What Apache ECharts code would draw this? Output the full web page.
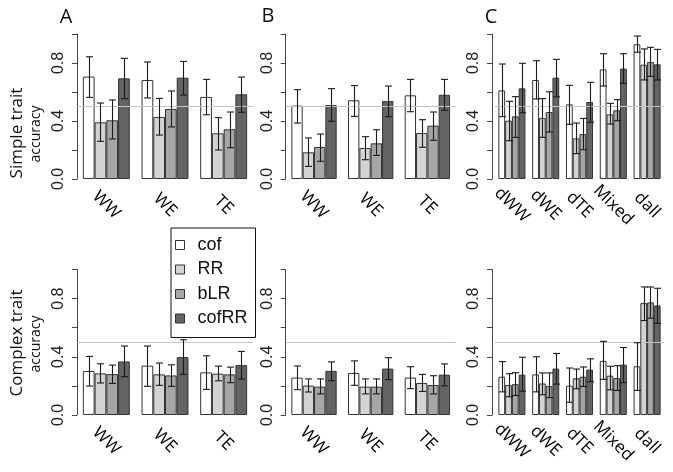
<!DOCTYPE html>
<html><head><meta charset="utf-8">
<script src="https://cdn.jsdelivr.net/npm/echarts@6/dist/echarts.min.js"></script>
<style>html,body{margin:0;padding:0;background:#fff}#c{width:673px;height:472px}</style>
</head><body><div id="c"></div>
<script>
// ---- categories / labels ----
const catsAB = ['WW', 'WE', 'TE'];
const catsC = ['dWW', 'dWE', 'dTE', 'Mixed', 'dall'];
const methods = ['cof', 'RR', 'bLR', 'cofRR'];
const yTickLabels = ['0.0', '0.4', '0.8'];
const panelLetters = ['A', 'B', 'C'];
const rowLabels = ['Simple trait', 'Complex trait'];
const refLine = 0.5;

// ---- Simple trait (rows: cof, RR, bLR, cofRR) ----
const simpleA_mean = [[0.706,0.683,0.566],[0.391,0.428,0.315],[0.405,0.483,0.343],[0.694,0.699,0.584]];
const simpleA_lo   = [[0.563,0.559,0.443],[0.260,0.303,0.200],[0.276,0.359,0.216],[0.554,0.579,0.460]];
const simpleA_hi   = [[0.843,0.807,0.687],[0.524,0.556,0.423],[0.545,0.607,0.462],[0.832,0.811,0.703]];

const simpleB_mean = [[0.506,0.543,0.577],[0.184,0.214,0.317],[0.221,0.246,0.368],[0.510,0.538,0.581]];
const simpleB_lo   = [[0.386,0.432,0.464],[0.087,0.133,0.219],[0.122,0.163,0.267],[0.398,0.430,0.474]];
const simpleB_hi   = [[0.616,0.644,0.687],[0.283,0.292,0.409],[0.310,0.340,0.462],[0.623,0.641,0.687]];

const simpleC_mean = [[0.611,0.683,0.515,0.756,0.929],[0.402,0.421,0.280,0.446,0.788],[0.432,0.462,0.310,0.474,0.807],[0.625,0.699,0.531,0.761,0.791]];
const simpleC_lo   = [[0.430,0.552,0.377,0.641,0.874],[0.264,0.287,0.175,0.379,0.683],[0.287,0.324,0.202,0.402,0.708],[0.457,0.566,0.391,0.660,0.683]];
const simpleC_hi   = [[0.793,0.816,0.646,0.864,0.986],[0.536,0.554,0.386,0.522,0.897],[0.568,0.602,0.418,0.547,0.908],[0.798,0.825,0.667,0.864,0.894]];

// ---- Complex trait ----
const complexA_mean = [[0.302,0.339,0.293],[0.286,0.279,0.284],[0.281,0.272,0.279],[0.368,0.398,0.343]];
const complexA_lo   = [[0.199,0.197,0.176],[0.220,0.204,0.235],[0.217,0.197,0.222],[0.263,0.279,0.247]];
const complexA_hi   = [[0.403,0.474,0.407],[0.352,0.357,0.336],[0.343,0.345,0.329],[0.474,0.517,0.437]];

const complexB_mean = [[0.257,0.289,0.257],[0.202,0.195,0.220],[0.195,0.195,0.206],[0.303,0.319,0.277]];
const complexB_lo   = [[0.174,0.204,0.181],[0.158,0.145,0.162],[0.145,0.145,0.145],[0.236,0.243,0.200]];
const complexB_hi   = [[0.337,0.372,0.332],[0.248,0.248,0.279],[0.248,0.248,0.270],[0.365,0.394,0.351]];

const complexC_mean = [[0.263,0.279,0.201,0.372,0.335],[0.206,0.217,0.252,0.270,0.769],[0.212,0.199,0.263,0.254,0.774],[0.277,0.319,0.312,0.346,0.753]];
const complexC_lo   = [[0.159,0.159,0.088,0.245,0.169],[0.125,0.139,0.180,0.173,0.649],[0.134,0.120,0.196,0.169,0.665],[0.164,0.212,0.229,0.222,0.630]];
const complexC_hi   = [[0.367,0.400,0.323,0.506,0.497],[0.284,0.289,0.316,0.335,0.880],[0.291,0.289,0.330,0.339,0.880],[0.397,0.423,0.386,0.464,0.871]];

// ---- styling ----
const colors = ['#ffffff', '#d3d3d3', '#a6a6a6', '#646464'];
const panels = [
  {cats: catsAB, mean: simpleA_mean, lo: simpleA_lo, hi: simpleA_hi, left: 77, width: 176, top: 34, height: 145, off: 0},
  {cats: catsAB, mean: simpleB_mean, lo: simpleB_lo, hi: simpleB_hi, left: 285.7, width: 170, top: 34, height: 145, off: 0},
  {cats: catsC,  mean: simpleC_mean, lo: simpleC_lo, hi: simpleC_hi, left: 495, width: 169, top: 34, height: 145, off: 3},
  {cats: catsAB, mean: complexA_mean, lo: complexA_lo, hi: complexA_hi, left: 77, width: 176, top: 269.5, height: 145.5, off: 0},
  {cats: catsAB, mean: complexB_mean, lo: complexB_lo, hi: complexB_hi, left: 285.7, width: 170, top: 269.5, height: 145.5, off: 0},
  {cats: catsC,  mean: complexC_mean, lo: complexC_lo, hi: complexC_hi, left: 495, width: 169, top: 269.5, height: 145.5, off: 3}
];

const grid = [], xAxis = [], yAxis = [], series = [];
panels.forEach((p, g) => {
  grid.push({left: p.left, top: p.top, width: p.width, height: p.height, containLabel: false});
  xAxis.push({
    type: 'category', gridIndex: g, data: p.cats,
    axisLine: {show: false}, axisTick: {show: false},
    axisLabel: {interval: 0, rotate: -45, align: 'center', verticalAlign: 'middle', margin: 26,
      fontFamily: 'Open Sans', fontSize: 17, color: '#000'}
  });
  yAxis.push({
    type: 'value', gridIndex: g, min: 0, max: 1, interval: 0.2, offset: p.off,
    axisLine: {show: true, lineStyle: {color: '#444', width: 1}},
    axisTick: {show: true, length: 5, lineStyle: {color: '#444'}},
    splitLine: {show: false},
    axisLabel: {rotate: 90, margin: 10, fontFamily: 'Liberation Sans', fontSize: 16, color: '#222',
      formatter: v => { const s = v.toFixed(1); return yTickLabels.includes(s) ? s : ''; }}
  });
  methods.forEach((m, k) => {
    series.push({
      type: 'bar', name: m, xAxisIndex: g, yAxisIndex: g, data: p.mean[k],
      barGap: '0%', barCategoryGap: '20%',
      itemStyle: {color: colors[k], borderColor: '#333', borderWidth: 1},
      emphasis: {disabled: true}, animation: false, z: 2
    });
  });
  methods.forEach((m, k) => {
    const lo = p.lo[k], hi = p.hi[k];
    series.push({
      type: 'custom', xAxisIndex: g, yAxisIndex: g, z: 6, animation: false, silent: true,
      encode: {x: 0, y: [1, 2]},
      data: lo.map((l, i) => [i, l, hi[i]]),
      renderItem: (params, api) => {
        const i = api.value(0);
        const pl = api.coord([i, api.value(1)]);
        const ph = api.coord([i, api.value(2)]);
        const band = api.size([1, 0])[0];
        const bw = band * 0.8 / 4;
        const x = Math.round(pl[0] + (k - 1.5) * bw) + 0.5;
        const c = 3.5;
        const st = {stroke: '#1a1a1a', lineWidth: 1.1};
        return {type: 'group', children: [
          {type: 'line', shape: {x1: x, y1: pl[1], x2: x, y2: ph[1]}, style: st},
          {type: 'line', shape: {x1: x - c, y1: pl[1], x2: x + c, y2: pl[1]}, style: st},
          {type: 'line', shape: {x1: x - c, y1: ph[1], x2: x + c, y2: ph[1]}, style: st}
        ]};
      }
    });
  });
  series.push({
    type: 'line', xAxisIndex: g, yAxisIndex: g, data: [], z: 4,
    markLine: {silent: true, symbol: 'none', label: {show: false}, animation: false,
      lineStyle: {color: '#c4c4c4', width: 1, type: 'solid'},
      data: [{yAxis: refLine}]}
  });
});

const graphic = [];
const letterPos = [[66, 17], [268, 16], [491, 17]];
panelLetters.forEach((t, i) => graphic.push({
  type: 'text', x: letterPos[i][0], y: letterPos[i][1],
  style: {text: t, fontFamily: 'Open Sans', fontSize: 20, fill: '#111', align: 'center', verticalAlign: 'middle'}
}));
const rowY = [133, 343];
rowLabels.forEach((t, i) => {
  graphic.push({type: 'text', x: 17, y: rowY[i], rotation: Math.PI / 2,
    style: {text: t, fontFamily: 'Open Sans', fontSize: 17, fill: '#111', align: 'center', verticalAlign: 'middle'}});
  graphic.push({type: 'text', x: 36, y: rowY[i] + 1, rotation: Math.PI / 2,
    style: {text: 'accuracy', fontFamily: 'Open Sans', fontSize: 14, fill: '#111', align: 'center', verticalAlign: 'middle'}});
});

const chart = echarts.init(document.getElementById('c'), null, {renderer: 'canvas'});
chart.setOption({
  animation: false,
  backgroundColor: '#fff',
  grid, xAxis, yAxis, series, graphic,
  legend: {
    data: methods, orient: 'vertical', left: 171, top: 228,
    icon: 'rect', itemWidth: 9, itemHeight: 9, itemGap: 6.5,
    padding: [8, 8, 10, 4],
    borderColor: '#111', borderWidth: 1,
    itemStyle: {borderColor: '#333', borderWidth: 1},
    textStyle: {fontFamily: 'Liberation Sans', fontSize: 18, color: '#111', padding: [0, 0, 0, 8]},
    selectedMode: false
  }
});
</script>
</body></html>
